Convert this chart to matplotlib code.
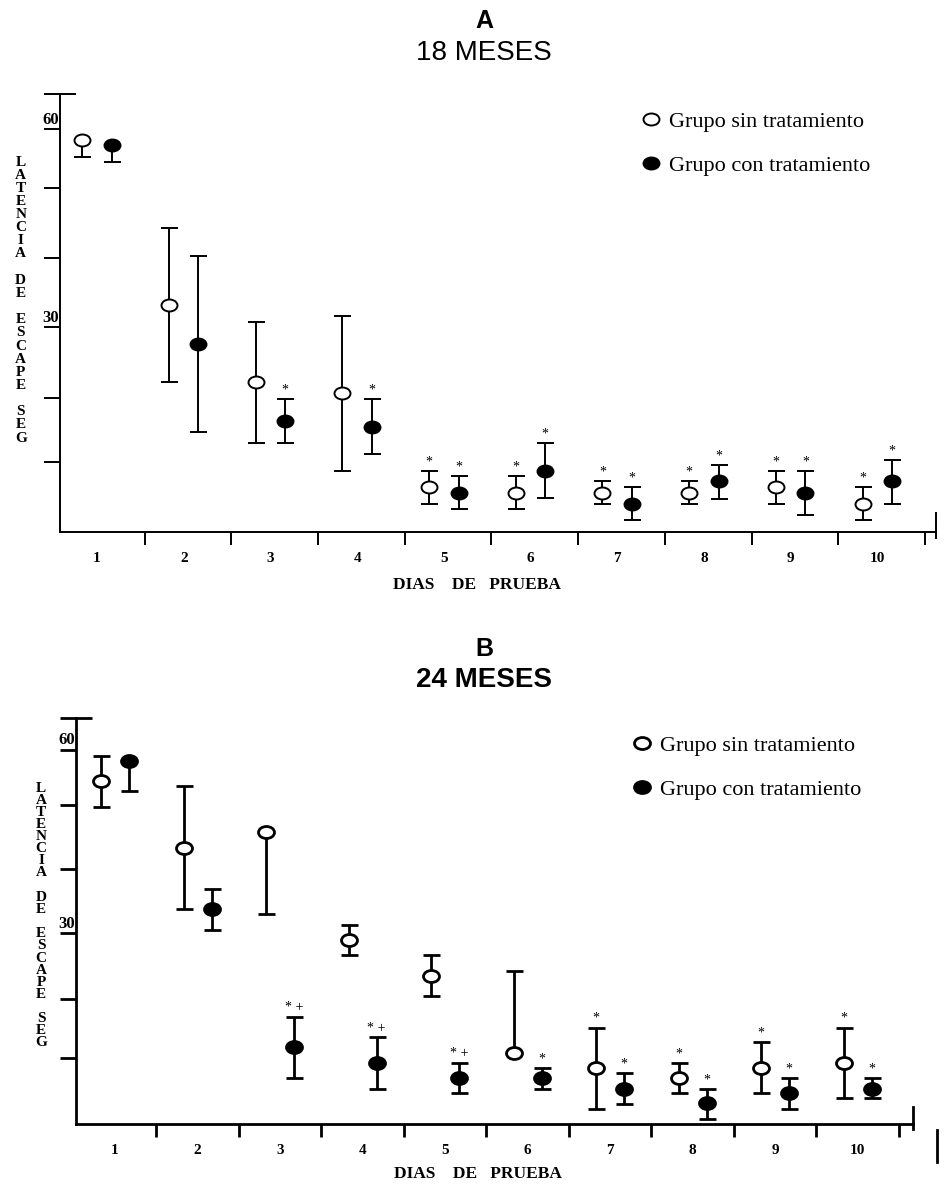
#!/usr/bin/env python3
"""Escape latency by test day, two age groups (18 and 24 months)."""

import numpy as np
import matplotlib
matplotlib.use("Agg")
import matplotlib.pyplot as plt
from matplotlib.path import Path
from matplotlib.transforms import Affine2D
from matplotlib.lines import Line2D

W, H = 947, 1184
SERIF = "Liberation Serif"
SANS = "Liberation Sans"

DAYS = np.arange(1, 11)
DAY_LABELS = [str(d) for d in DAYS]
LEGEND_LABELS = ["Grupo sin tratamiento", "Grupo con tratamiento"]
X_LABEL = "DIAS    DE   PRUEBA"
Y_LABEL = "LATENCIA DE ESCAPE SEG"
Y_TICKS = [9.5, 19.2, 30, 40.5, 51, 60]
Y_TICK_LABELS = ["", "", "30", "", "", "60"]

# panel A, 18 meses
open_18 = [58.4, 33.3, 21.6, 20.0, 5.8, 4.9, 4.9, 4.9, 5.7, 3.2]
open_18_up = [0, 11.7, 9.2, 11.6, 2.4, 2.5, 1.7, 1.8, 2.5, 2.5]
open_18_lo = [2.6, 11.7, 9.2, 11.8, 2.6, 2.5, 1.7, 1.7, 2.5, 2.4]
open_18_marks = ["", "", "", "", "*", "*", "*", "*", "*", "*"]
filled_18 = [57.5, 27.4, 15.8, 14.9, 4.9, 8.2, 3.2, 6.6, 4.9, 6.6]
filled_18_up = [0, 13.4, 3.3, 4.2, 2.5, 4.2, 2.6, 2.5, 3.3, 3.2]
filled_18_lo = [2.5, 13.3, 3.4, 4.2, 2.5, 4.1, 2.5, 2.6, 3.4, 3.4]
filled_18_marks = ["", "", "*", "*", "*", "*", "*", "*", "*", "*"]

# panel B, 24 meses
open_24 = [54.8, 43.9, 46.5, 28.9, 23.0, 10.4, 7.9, 6.2, 7.8, 8.7]
open_24_up = [4.1, 10.1, 0, 2.4, 3.3, 13.4, 6.6, 2.5, 4.3, 5.8]
open_24_lo = [4.2, 10.0, 13.4, 2.6, 3.4, 0, 6.8, 2.5, 4.1, 5.8]
open_24_marks = ["", "", "", "", "", "", "*", "*", "*", "*"]
filled_24 = [58.1, 33.9, 11.3, 8.7, 6.2, 6.2, 4.5, 2.1, 3.7, 4.5]
filled_24_up = [0, 3.3, 5.0, 4.2, 2.5, 1.7, 2.5, 2.4, 2.5, 1.7]
filled_24_lo = [4.9, 3.4, 5.1, 4.2, 2.5, 1.7, 2.5, 2.6, 2.6, 1.6]
filled_24_marks = ["", "", "* +", "* +", "* +", "*", "*", "*", "*", "*"]

# flattened ellipse used as the marker
ELLIPSE = Path.unit_circle().transformed(Affine2D().scale(1.0, 0.75))


def fig_x(px):
    return px / W


def fig_y(py):
    return 1 - py / H


def draw_group(ax, x, means, up, lo, marks, face, lw, ms):
    means = np.asarray(means, dtype=float)
    up = np.asarray(up, dtype=float)
    lo = np.asarray(lo, dtype=float)
    top = means + up
    bot = means - lo
    ax.vlines(x, bot, top, colors="black", linewidth=lw, zorder=2)
    cap = 8.5 * 72 / 100 * 2
    has_up = up > 0
    has_lo = lo > 0
    ax.plot(x[has_up], top[has_up], ls="none", marker="_", ms=cap, mew=lw, color="black", zorder=2)
    ax.plot(x[has_lo], bot[has_lo], ls="none", marker="_", ms=cap, mew=lw, color="black", zorder=2)
    (handle,) = ax.plot(x, means, ls="none", marker=ELLIPSE, ms=ms, mfc=face, mec="black",
                        mew=lw, zorder=3)
    for xi, yi, m in zip(x, top, marks):
        if m:
            ax.annotate(m, xy=(xi, yi), xytext=(0, 6.5), textcoords="offset points",
                        ha="center", va="center", fontsize=10, family=SERIF)
    return handle


def draw_panel(fig, px_box, xlim, ylim, lw, data_open, data_filled, ylabel_px, legend_px,
               xlabel_px, tick_shift):
    left, top, right, bottom = px_box
    ax = fig.add_axes([fig_x(left), fig_y(bottom), (right - left) / W, (bottom - top) / H])
    ax.set_xlim(*xlim)
    ax.set_ylim(*ylim)
    for side in ("top", "right"):
        ax.spines[side].set_visible(False)
    for side in ("left", "bottom"):
        ax.spines[side].set_linewidth(lw)

    h_open = draw_group(ax, DAYS - 0.17, *data_open, "white", lw, 11.5)
    h_filled = draw_group(ax, DAYS + 0.17, *data_filled, "black", lw, 11.5)

    # x axis: boundary ticks without labels, day labels in between
    ax.set_xticks(DAYS + tick_shift)
    ax.set_xticklabels([])
    ax.set_xticks(DAYS, minor=True)
    ax.set_xticklabels(DAY_LABELS, minor=True, family=SERIF, fontweight="bold", fontsize=11)
    ax.tick_params(axis="x", which="major", direction="out", length=9.5, width=lw)
    ax.tick_params(axis="x", which="minor", length=0, pad=14.5)

    # y axis: plain ticks, labels sit on top of the tick line
    ax.set_yticks(Y_TICKS)
    ax.set_yticklabels([])
    ax.set_yticks([ylim[1]], minor=True)
    ax.set_yticklabels([], minor=True)
    ax.tick_params(axis="y", which="major", direction="out", length=11.5, width=lw)
    ax.tick_params(axis="y", which="minor", direction="inout", length=23, width=lw)
    for val, lbl in zip(Y_TICKS, Y_TICK_LABELS):
        if lbl:
            ax.annotate(lbl, xy=(0, val), xycoords=("axes fraction", "data"), xytext=(-1, 1),
                        textcoords="offset points", ha="right", va="bottom",
                        family=SERIF, fontweight="bold", fontsize=12)

    # small end mark on the right of the x axis
    ax.plot([1, 1], [-0.013, 0.043], transform=ax.transAxes, clip_on=False,
            color="black", linewidth=lw)

    # stacked letters for the y label
    lx, ly0, ly1 = ylabel_px
    step = (ly1 - ly0) / (len(Y_LABEL) - 1)
    for i, ch in enumerate(Y_LABEL):
        if ch != " ":
            fig.text(fig_x(lx), fig_y(ly0 + i * step), ch, ha="center", va="center",
                     family=SERIF, fontweight="bold", fontsize=11)

    fig.text(fig_x(xlabel_px[0]), fig_y(xlabel_px[1]), X_LABEL, ha="center", va="center",
             family=SERIF, fontweight="bold", fontsize=12.5)

    ax.legend([h_open, h_filled], LEGEND_LABELS, loc="upper left",
              bbox_to_anchor=(fig_x(legend_px[0]), fig_y(legend_px[1])),
              bbox_transform=fig.transFigure, frameon=False, borderpad=0,
              handlelength=0.75, handletextpad=0.4, labelspacing=1.05,
              prop={"family": SERIF, "size": 16})
    return ax


def main():
    fig = plt.figure(figsize=(W / 100, H / 100), dpi=100)

    draw_panel(fig, (60, 94, 936, 532), (0.573, 10.677), (-1.06, 65.3), 1.4,
               (open_18, open_18_up, open_18_lo, open_18_marks),
               (filled_18, filled_18_up, filled_18_lo, filled_18_marks),
               (20.7, 162, 438), (632, 100), (477, 585), 0.55)

    draw_panel(fig, (76, 718, 913, 1124), (0.527, 10.67), (-1.3, 65.2), 2.0,
               (open_24, open_24_up, open_24_lo, open_24_marks),
               (filled_24, filled_24_up, filled_24_lo, filled_24_marks),
               (41, 788, 1043), (623, 724), (478, 1174), 0.5)

    fig.text(fig_x(484), fig_y(21), "A", ha="center", va="center", family=SANS,
             fontweight="bold", fontsize=18)
    fig.text(fig_x(484), fig_y(53), "18 MESES", ha="center", va="center", family=SANS,
             fontsize=20)
    fig.text(fig_x(484), fig_y(649), "B", ha="center", va="center", family=SANS,
             fontweight="bold", fontsize=18)
    fig.text(fig_x(484), fig_y(680), "24 MESES", ha="center", va="center", family=SANS,
             fontweight="bold", fontsize=20)

    # stray vertical stroke at the lower right of the original figure
    fig.add_artist(Line2D([fig_x(937), fig_x(937)], [fig_y(1130), fig_y(1162)],
                          color="black", linewidth=2.0))

    fig.savefig("out.png", dpi=100)


if __name__ == "__main__":
    main()
